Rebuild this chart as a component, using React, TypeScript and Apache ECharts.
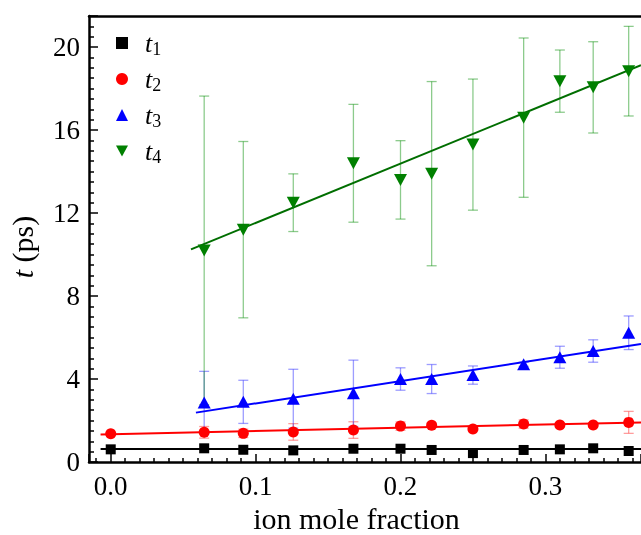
import React, { useEffect, useRef } from 'react';
import * as echarts from 'echarts';

// ion mole fractions
const xAll = [0, 0.0645, 0.0915, 0.126, 0.1675, 0.2, 0.2215, 0.25, 0.285, 0.31, 0.333, 0.3575];
const xIon = [0.0645, 0.0915, 0.126, 0.1675, 0.2, 0.2215, 0.25, 0.285, 0.31, 0.333, 0.3575];

// series values (ps)
const t1 = [0.61, 0.66, 0.59, 0.56, 0.64, 0.64, 0.58, 0.43, 0.58, 0.61, 0.66, 0.53];
const t2 = [1.36, 1.43, 1.38, 1.45, 1.54, 1.73, 1.77, 1.59, 1.83, 1.78, 1.78, 1.91];
const t2Err = [0.05, 0.28, 0.2, 0.4, 0.4, 0.2, 0.1, 0.05, 0.2, 0.1, 0.1, 0.53];
const t3 = [2.87, 2.9, 3.05, 3.31, 4.0, 4.0, 4.19, 4.71, 5.05, 5.35, 6.23];
const t3Err = [1.5, 1.04, 1.42, 1.6, 0.54, 0.7, 0.44, 0.1, 0.53, 0.54, 0.81];
const t4 = [10.2, 11.2, 12.5, 14.4, 13.6, 13.9, 15.3, 16.6, 18.36, 18.06, 18.84];
const t4Err = [7.44, 4.25, 1.39, 2.84, 1.89, 4.44, 3.16, 3.84, 1.5, 2.2, 2.16];

// linear fits (end points)
const fitT1 = [[-0.007, 0.63], [0.366, 0.63]];
const fitT2 = [[-0.007, 1.33], [0.366, 1.91]];
const fitT3 = [[0.0588, 2.38], [0.366, 5.69]];
const fitT4 = [[0.0554, 10.25], [0.366, 19.13]];

const FONT = 'Liberation Serif';

const pairs = (xs: number[], ys: number[]) => xs.map((x, i) => [x, ys[i]]);
const errData = (xs: number[], ys: number[], es: number[]) =>
  xs.map((x, i) => [x, ys[i] - es[i], ys[i] + es[i]]);

const errSeries = (data: number[][], color: string) => ({
  type: 'custom',
  z: 1,
  silent: true,
  encode: { x: 0, y: [1, 2] },
  data,
  renderItem: (params: any, api: any) => {
    const x = api.value(0);
    const lo = api.value(1);
    const hi = api.value(2);
    const p1 = api.coord([x, hi]);
    const p2 = api.coord([x, lo]);
    const w = 5;
    const style = { stroke: color, lineWidth: 1.3 };
    return {
      type: 'group',
      children: [
        { type: 'line', shape: { x1: p1[0], y1: p1[1], x2: p2[0], y2: p2[1] }, style },
        { type: 'line', shape: { x1: p1[0] - w, y1: p1[1], x2: p1[0] + w, y2: p1[1] }, style },
        { type: 'line', shape: { x1: p2[0] - w, y1: p2[1], x2: p2[0] + w, y2: p2[1] }, style },
      ],
    };
  },
});

const fitSeries = (data: number[][], color: string) => ({
  type: 'line',
  z: 2,
  data,
  showSymbol: false,
  symbol: 'none',
  silent: true,
  lineStyle: { color, width: 2 },
});

const DOWN_TRIANGLE = 'path://M0,0 L2,0 L1,1.85 Z';

export default function App() {
  const ref = useRef<HTMLDivElement>(null);
  useEffect(() => {
    const chart = echarts.init(ref.current!, null, { renderer: 'svg' });
    const option: any = {
      animation: false,
      grid: { left: 89, right: 0, top: 16, bottom: 73, containLabel: false, outerBoundsMode: 'none' },
      legend: {
        orient: 'vertical',
        left: 111,
        top: 25,
        itemGap: 8,
        itemWidth: 12,
        itemHeight: 12,
        data: [
          { name: 't1' },
          { name: 't2' },
          { name: 't3' },
          { name: 't4', icon: DOWN_TRIANGLE },
        ],
        formatter: (name: string) => `{i|t}{s|${name.slice(1)}}`,
        textStyle: {
          fontFamily: FONT,
          color: '#000',
          rich: {
            i: { fontFamily: FONT, fontStyle: 'italic', fontSize: 26, lineHeight: 30, padding: [0, 0, 0, 12], color: '#000' },
            s: { fontFamily: FONT, fontSize: 18, lineHeight: 18, verticalAlign: 'bottom', color: '#000' },
          },
        },
      },
      xAxis: [
        {
          type: 'value',
          min: -0.015,
          max: 0.366,
          splitNumber: 4,
          name: 'ion mole fraction',
          nameLocation: 'middle',
          nameGap: 38,
          nameTextStyle: { fontFamily: FONT, fontSize: 30, lineHeight: 26, color: '#000', padding: [0, 17, 0, 0] },
          axisLine: { show: true, onZero: false, lineStyle: { color: '#000', width: 2.5 } },
          axisTick: { show: true, inside: true, length: 8, lineStyle: { color: '#000', width: 1.5 } },
          minorTick: { show: true, splitNumber: 10, length: 4, lineStyle: { color: '#000', width: 1.5 } },
          axisLabel: {
            fontFamily: FONT, fontSize: 27, color: '#000', margin: 10,
            showMinLabel: false, showMaxLabel: false,
            formatter: (v: number) => v.toFixed(1),
          },
          splitLine: { show: false },
        },
        {
          type: 'value',
          position: 'top',
          min: -0.015,
          max: 0.366,
          axisLine: { show: true, onZero: false, lineStyle: { color: '#000', width: 2.5 } },
          axisTick: { show: false },
          axisLabel: { show: false },
          splitLine: { show: false },
        },
      ],
      yAxis: {
        type: 'value',
        min: 0,
        max: 21.5,
        interval: 4,
        name: '{i|t} (ps)',
        nameLocation: 'middle',
        nameGap: 52,
        nameRotate: 90,
        nameTextStyle: {
          fontFamily: FONT, fontSize: 30, color: '#000', padding: [0, 16, 0, 0],
          rich: { i: { fontFamily: FONT, fontStyle: 'italic', fontSize: 30, color: '#000' } },
        },
        axisLine: { show: true, onZero: false, lineStyle: { color: '#000', width: 2.5 } },
        axisTick: { show: true, inside: true, length: 9, lineStyle: { color: '#000', width: 1.5 } },
        minorTick: { show: true, splitNumber: 8, length: 5, lineStyle: { color: '#000', width: 1.5 } },
        axisLabel: { fontFamily: FONT, fontSize: 27, color: '#000', margin: 9, showMaxLabel: false },
        splitLine: { show: false },
      },
      series: [
        errSeries(errData(xAll, t2, t2Err), 'rgba(255,60,60,0.5)'),
        errSeries(errData(xIon, t3, t3Err), 'rgba(60,60,255,0.5)'),
        errSeries(errData(xIon, t4, t4Err), 'rgba(0,140,0,0.45)'),
        fitSeries(fitT1, '#000000'),
        fitSeries(fitT2, '#ff0000'),
        fitSeries(fitT3, '#0000ff'),
        fitSeries(fitT4, '#006e00'),
        { name: 't1', type: 'scatter', z: 3, symbol: 'rect', symbolSize: 10, itemStyle: { color: '#000', opacity: 1 }, data: pairs(xAll, t1) },
        { name: 't2', type: 'scatter', z: 3, symbol: 'circle', symbolSize: 11, itemStyle: { color: '#ff0000', opacity: 1 }, data: pairs(xAll, t2) },
        { name: 't3', type: 'scatter', z: 3, symbol: 'triangle', symbolSize: [13, 12], itemStyle: { color: '#0000ff', opacity: 1 }, data: pairs(xIon, t3) },
        { name: 't4', type: 'scatter', z: 3, symbol: 'triangle', symbolRotate: 180, symbolSize: [13, 12], itemStyle: { color: '#008000', opacity: 1 }, data: pairs(xIon, t4) },
      ],
    };
    chart.setOption(option);
    return () => chart.dispose();
  }, []);
  return <div ref={ref} style={{ position: 'fixed', left: 0, top: 0, width: 641, height: 535 }} />;
}
